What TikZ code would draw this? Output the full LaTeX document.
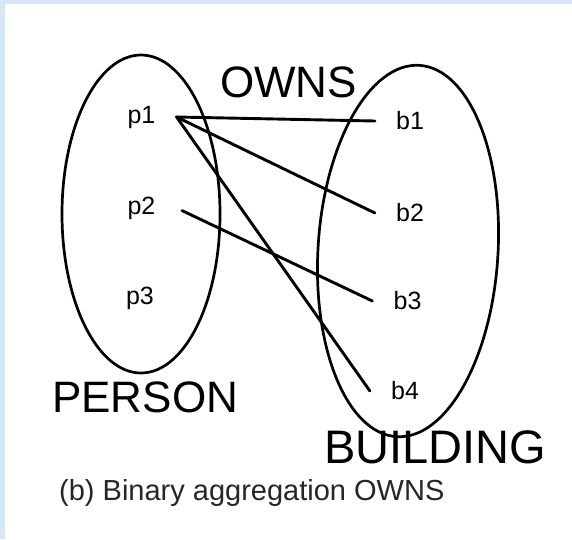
\documentclass[tikz,border=0pt]{standalone}
\usepackage{fontspec}
\setmainfont{Liberation Sans}
\definecolor{scanblue}{RGB}{214,230,246}

\begin{document}
\begin{tikzpicture}[x=1pt, y=-1pt,
    elem/.style={inner xsep=21pt, font=\fontsize{25}{25}\selectfont},
    link/.style={line width=2.9pt, line cap=round},
    setname/.style={anchor=base west, inner sep=0pt}]
    % page
    \fill[scanblue] (0,0) rectangle (572,539);
    \fill[white] (5,4) rectangle (572,539);
    \useasboundingbox (0,0) rectangle (572,539);
    % the two sets
    \draw[line width=2.7pt] (141,214) ellipse [x radius=79, y radius=159];
    \draw[line width=2.7pt] (408,251) ellipse [x radius=90, y radius=186, rotate=-3.5];
    % PERSON elements
    \node[elem] (p1) at (141.5,117) {p1};
    \node[elem] (p2) at (141.5,208) {p2};
    \node[elem] (p3) at (140,298) {p3};
    % BUILDING elements
    \node[elem] (b1) at (410,121) {b1};
    \node[elem] (b2) at (410,213) {b2};
    \node[elem] (b3) at (407.5,301) {b3};
    \node[elem] (b4) at (405,391) {b4};
    % OWNS pairs
    \draw[link] (p1.east) -- (b1.west);
    \draw[link] (p1.east) -- (b2.west);
    \draw[link] (p1.east) -- (b4.west);
    \draw[link, shorten <=6pt] (p2.east) -- (b3.west);
    % Labels
    \node[setname, font=\fontsize{44}{44}\selectfont] (owns) at (220,97) {OWNS};
    \node[setname, font=\fontsize{44}{44}\selectfont] (person) at (52,412) {PERSON};
    \node[setname, font=\fontsize{47}{47}\selectfont] (building) at (324,463) {BUILDING};
    \node[setname, font=\fontsize{29}{29}\selectfont, text=black!85] (caption) at (59,500) {(b) Binary aggregation OWNS};
\end{tikzpicture}
\end{document}
